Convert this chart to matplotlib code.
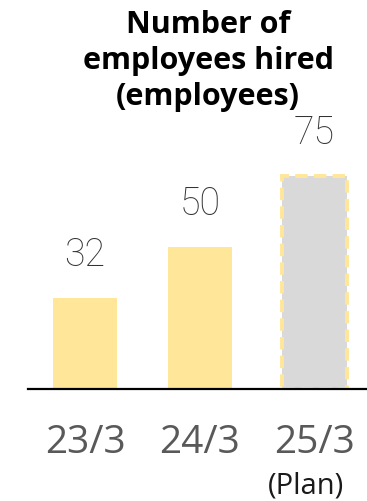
import matplotlib
matplotlib.use('Agg')
import matplotlib.pyplot as plt

periods = ['23/3', '24/3', '25/3']
hired = [32, 50, 75]
plan_flags = [False, False, True]
title = 'Number of\nemployees hired\n(employees)'

YELLOW = '#FFE699'
GREY_FILL = '#D9D9D9'
TEXT_GREY = '#595959'

fig = plt.figure(figsize=(3.67, 5.01), dpi=100)
ax = fig.add_axes([28 / 367, 112 / 501, 339 / 367, 389 / 501])

x = list(range(len(periods)))
for xi, val, is_plan in zip(x, hired, plan_flags):
    if is_plan:
        ax.bar(xi, val, width=0.56, color=GREY_FILL, edgecolor=YELLOW,
               linewidth=2.8, linestyle=(0, (3.2, 1.6)), zorder=2)
    else:
        ax.bar(xi, val, width=0.56, color=YELLOW, linewidth=0, zorder=2)
    ax.annotate(str(val), (xi, val), xytext=(0, 31), textcoords='offset points',
                ha='center', va='center', fontsize=27, color='#333333',
                family='Roboto', weight='light')

ax.set_xlim(-0.497, 2.457)
ax.set_ylim(0, 137)

for s in ['top', 'right', 'left']:
    ax.spines[s].set_visible(False)
ax.spines['bottom'].set_linewidth(1.6)
ax.spines['bottom'].set_color('black')
ax.spines['bottom'].set_zorder(3)
ax.set_yticks([])
ax.set_xticks(x)
ax.set_xticklabels(periods, fontsize=28, color=TEXT_GREY, family='Open Sans')
ax.tick_params(axis='x', length=0, pad=25)

ax.annotate('(Plan)', (2, 0), xytext=(-6, -70), textcoords='offset points',
            ha='center', va='center', fontsize=21, color='#1a1a1a', family='Open Sans')

fig.text(208 / 367, 1 - 10 / 501, title, ha='center', va='top', fontsize=22,
         weight='bold', family='Open Sans', linespacing=1.27)

fig.savefig('out.png', dpi=100)
